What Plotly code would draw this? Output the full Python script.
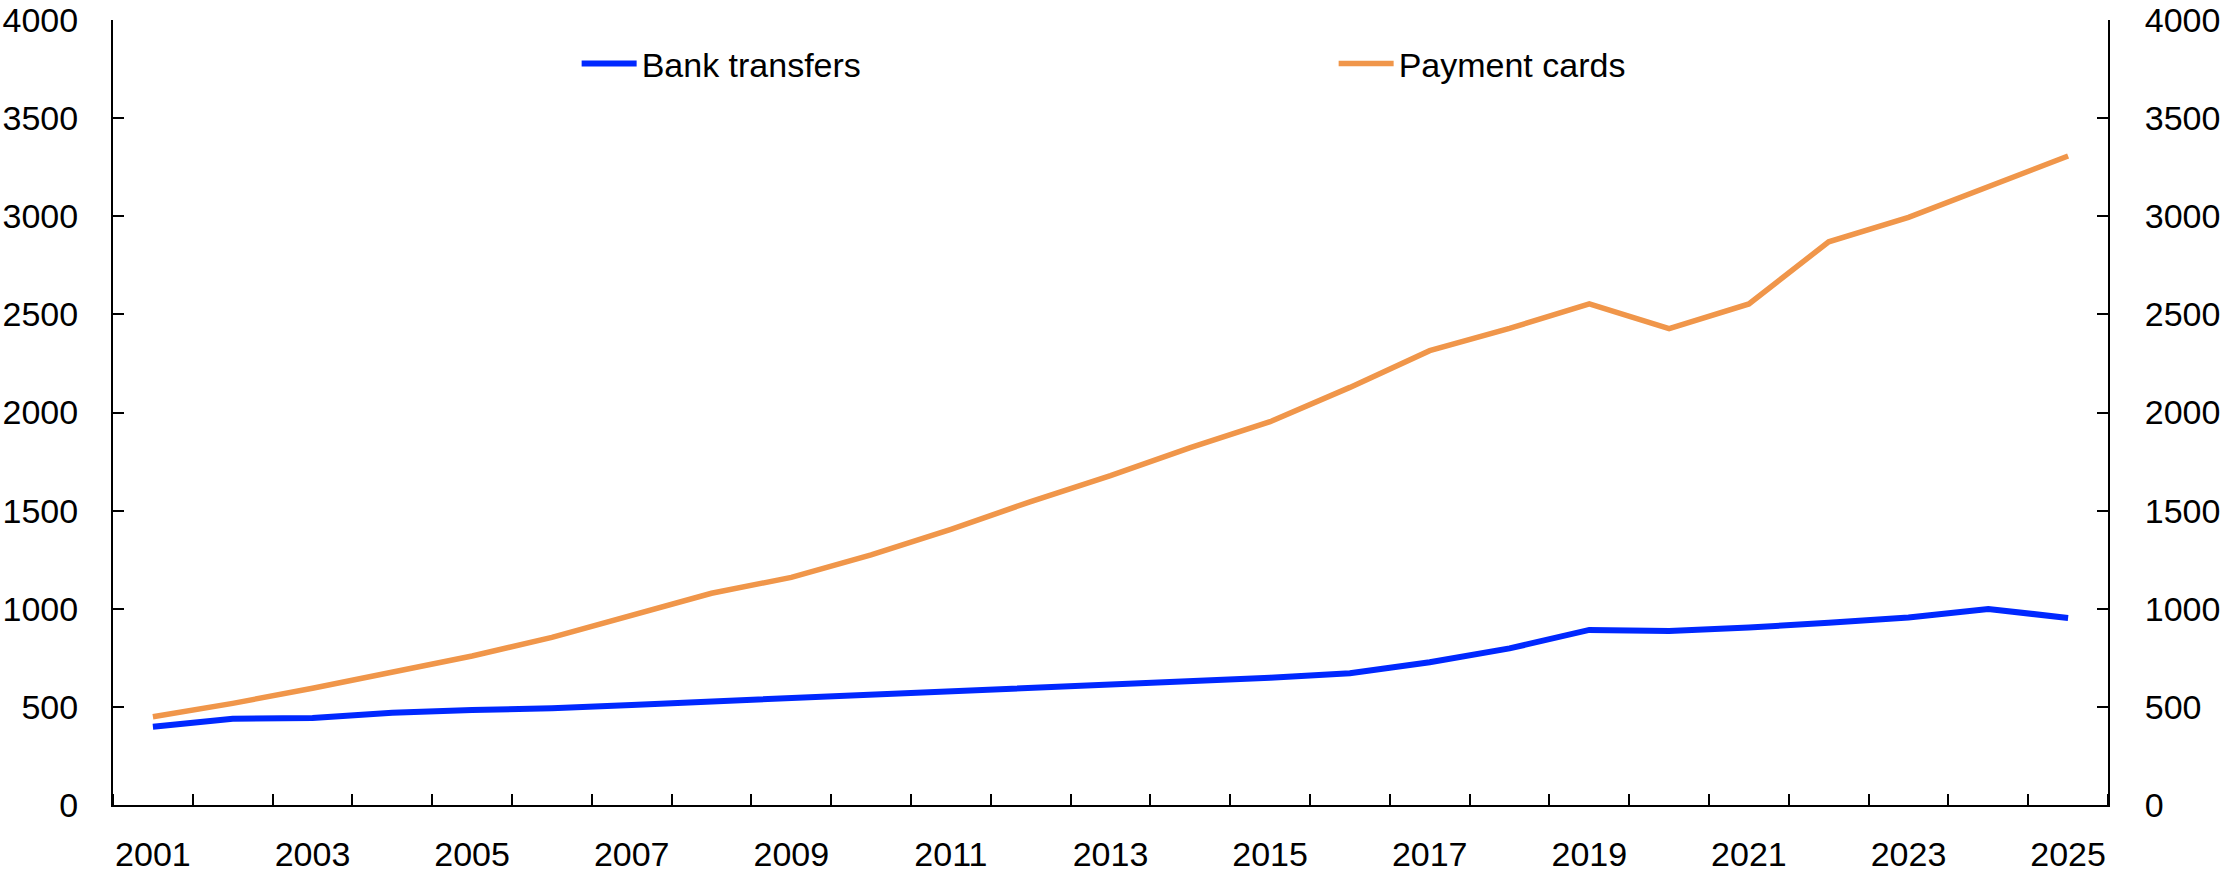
import plotly.graph_objects as go

years = list(range(2001, 2026))
bank_transfers = [399, 440, 443, 470, 484, 493, 510, 527, 540, 564, 576, 594, 610,
                  628, 649, 671, 727, 798, 892, 887, 904, 929, 956, 999, 953]
payment_cards = [450, 518, 595, 679, 759, 854, 968, 1079, 1160, 1274, 1405, 1546, 1678,
                 1821, 1953, 2128, 2315, 2429, 2553, 2427, 2553, 2870, 2994, 3154, 3307]
x_tick_years = list(range(2001, 2026, 2))
y_ticks = list(range(0, 4001, 500))

FONT = "Liberation Sans, Arial, sans-serif"

fig = go.Figure()
fig.add_trace(go.Scatter(x=years, y=bank_transfers, name="Bank transfers", mode="lines",
                         line=dict(color="#0028FF", width=6)))
fig.add_trace(go.Scatter(x=years, y=payment_cards, name="Payment cards", mode="lines",
                         line=dict(color="#F0964A", width=5.5)))
# invisible trace to carry the right axis
fig.add_trace(go.Scatter(x=years, y=payment_cards, yaxis="y2", mode="lines",
                         line=dict(width=0), showlegend=False, hoverinfo="skip", opacity=0))

fig.update_layout(
    width=2230, height=872,
    margin=dict(l=113, r=122, t=20, b=67),
    paper_bgcolor="white", plot_bgcolor="white",
    font=dict(family=FONT, size=34, color="black"),
    showlegend=True,
    legend=dict(orientation="h", x=0.2324, y=0.944, xanchor="left", yanchor="middle",
                entrywidth=687, font=dict(size=34), bgcolor="rgba(0,0,0,0)",
                itemwidth=55, tracegroupgap=0),
    xaxis=dict(range=[2000.5, 2025.5], tickmode="array", tickvals=x_tick_years,
               ticktext=[str(y) for y in x_tick_years], ticks="", showgrid=False,
               showline=True, linecolor="black", linewidth=2, zeroline=False,
               ticklabelstandoff=18, automargin=False,
               minor=dict(tick0=2000.5, dtick=1, ticks="inside", ticklen=11,
                          tickwidth=2, tickcolor="black", showgrid=False)),
    yaxis=dict(range=[0, 4000], tickmode="array", tickvals=y_ticks, ticks="inside",
               ticklen=11, tickwidth=2, tickcolor="black", showgrid=False,
               showline=True, linecolor="black", linewidth=2, zeroline=False,
               ticklabelstandoff=26, automargin=False),
    yaxis2=dict(range=[0, 4000], tickmode="array", tickvals=y_ticks, ticks="inside",
                ticklen=11, tickwidth=2, tickcolor="black", showgrid=False,
                showline=True, linecolor="black", linewidth=2, zeroline=False,
                overlaying="y", side="right", ticklabelstandoff=28, automargin=False),
)

fig.write_html("out.html", config={"displayModeBar": False},
               post_script="document.body.style.margin='0';document.body.style.overflow='hidden';")
